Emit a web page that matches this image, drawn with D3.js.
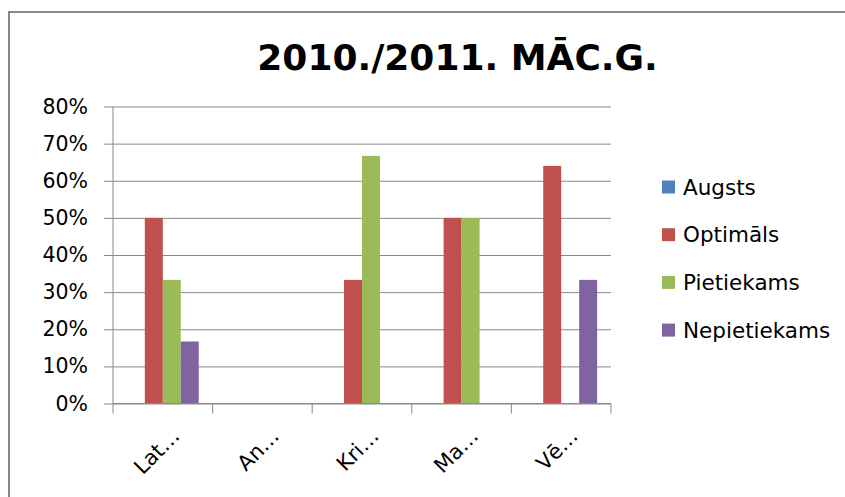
<!DOCTYPE html>
<html>
<head>
<meta charset="utf-8">
<script src="https://cdn.jsdelivr.net/npm/d3@7"></script>
<style>
  body { margin: 0; background: #fff; }
  text { font-family: "DejaVu Sans", sans-serif; fill: #000; }
</style>
</head>
<body>
<div id="chart"></div>
<script>
// data
const categories = ["Lat…", "An…", "Kri…", "Ma…", "Vē…"];
const seriesNames = ["Augsts", "Optimāls", "Pietiekams", "Nepietiekams"];
const seriesColors = ["#4F81BD", "#C0504D", "#9BBB59", "#8064A2"];
const augsts = [0, 0, 0, 0, 0];
const optimals = [0.5, 0, 0.333, 0.5, 0.64];
const pietiekams = [0.333, 0, 0.667, 0.5, 0];
const nepietiekams = [0.167, 0, 0, 0, 0.333];
const yTicks = [0, 0.1, 0.2, 0.3, 0.4, 0.5, 0.6, 0.7, 0.8];
const title = "2010./2011. MĀC.G.";

const values = [augsts, optimals, pietiekams, nepietiekams];

const W = 845, H = 497;
const plot = {left: 113, right: 611, top: 106.5, bottom: 403.5};

const svg = d3.select("#chart")
  .append("svg")
    .attr("width", W)
    .attr("height", H);

// outer frame (left and top edges are visible)
svg.append("path")
  .attr("d", `M9,${H} L9,12 L${W},12`)
  .attr("fill", "none")
  .attr("stroke", "#878787")
  .attr("stroke-width", 2);

svg.append("text")
  .attr("x", 457.5)
  .attr("y", 70)
  .attr("text-anchor", "middle")
  .style("font-weight", "bold")
  .style("font-size", "36px")
  .text(title);

const x0 = d3.scaleBand()
  .domain(categories)
  .range([plot.left, plot.right]);

const x1 = d3.scaleBand()
  .domain(seriesNames)
  .range([x0.bandwidth() * 0.139, x0.bandwidth() * 0.861]);

const y = d3.scaleLinear()
  .domain([0, 0.8])
  .range([plot.bottom, plot.top]);

// gridlines + y axis
const yAxis = svg.append("g")
  .attr("transform", `translate(${plot.left},0)`)
  .call(d3.axisLeft(y)
    .tickValues(yTicks)
    .tickSize(9)
    .tickFormat(d3.format(".0%")));
yAxis.selectAll(".tick line").clone()
  .attr("x2", plot.right - plot.left);
yAxis.selectAll("line, path").attr("stroke", "#898989");
yAxis.select(".domain").attr("d", `M0,${plot.top}V${plot.bottom}`);
yAxis.selectAll("text")
  .attr("x", -25)
  .style("font-size", "20.5px")
  .style("font-family", "DejaVu Sans");

// bars
const groups = svg.append("g")
  .selectAll("g")
  .data(categories)
  .join("g")
    .attr("transform", d => `translate(${x0(d)},0)`);

groups.selectAll("rect")
  .data((c, i) => seriesNames.map((s, k) => ({s, k, v: values[k][i]})))
  .join("rect")
    .attr("x", d => x1(d.s))
    .attr("width", x1.bandwidth())
    .attr("y", d => y(d.v))
    .attr("height", d => y(0) - y(d.v))
    .attr("fill", d => seriesColors[d.k]);

// x axis with ticks at category boundaries
const xAxis = svg.append("g")
  .attr("transform", `translate(0,${plot.bottom})`);
xAxis.append("line")
  .attr("x1", plot.left).attr("x2", plot.right)
  .attr("stroke", "#898989");
xAxis.selectAll(".bnd")
  .data(categories.concat([null]))
  .join("line")
    .attr("class", "bnd")
    .attr("x1", (d, i) => plot.left + i * x0.step())
    .attr("x2", (d, i) => plot.left + i * x0.step())
    .attr("y2", 10)
    .attr("stroke", "#898989");
xAxis.selectAll("text")
  .data(categories)
  .join("text")
    .attr("text-anchor", "end")
    .attr("transform", d => `translate(${x0(d) + x0.bandwidth() / 2 + 18},34) rotate(-45)`)
    .style("font-size", "21px")
    .text(d => d);

// legend
const legend = svg.append("g")
  .selectAll("g")
  .data(seriesNames)
  .join("g")
    .attr("transform", (d, i) => `translate(662,${187 + i * 47.7})`);
legend.append("rect")
  .attr("y", -6.5)
  .attr("width", 13)
  .attr("height", 13)
  .attr("fill", (d, i) => seriesColors[i]);
legend.append("text")
  .attr("x", 21)
  .attr("dy", "0.36em")
  .style("font-size", "21.5px")
  .text(d => d);
</script>
</body>
</html>
